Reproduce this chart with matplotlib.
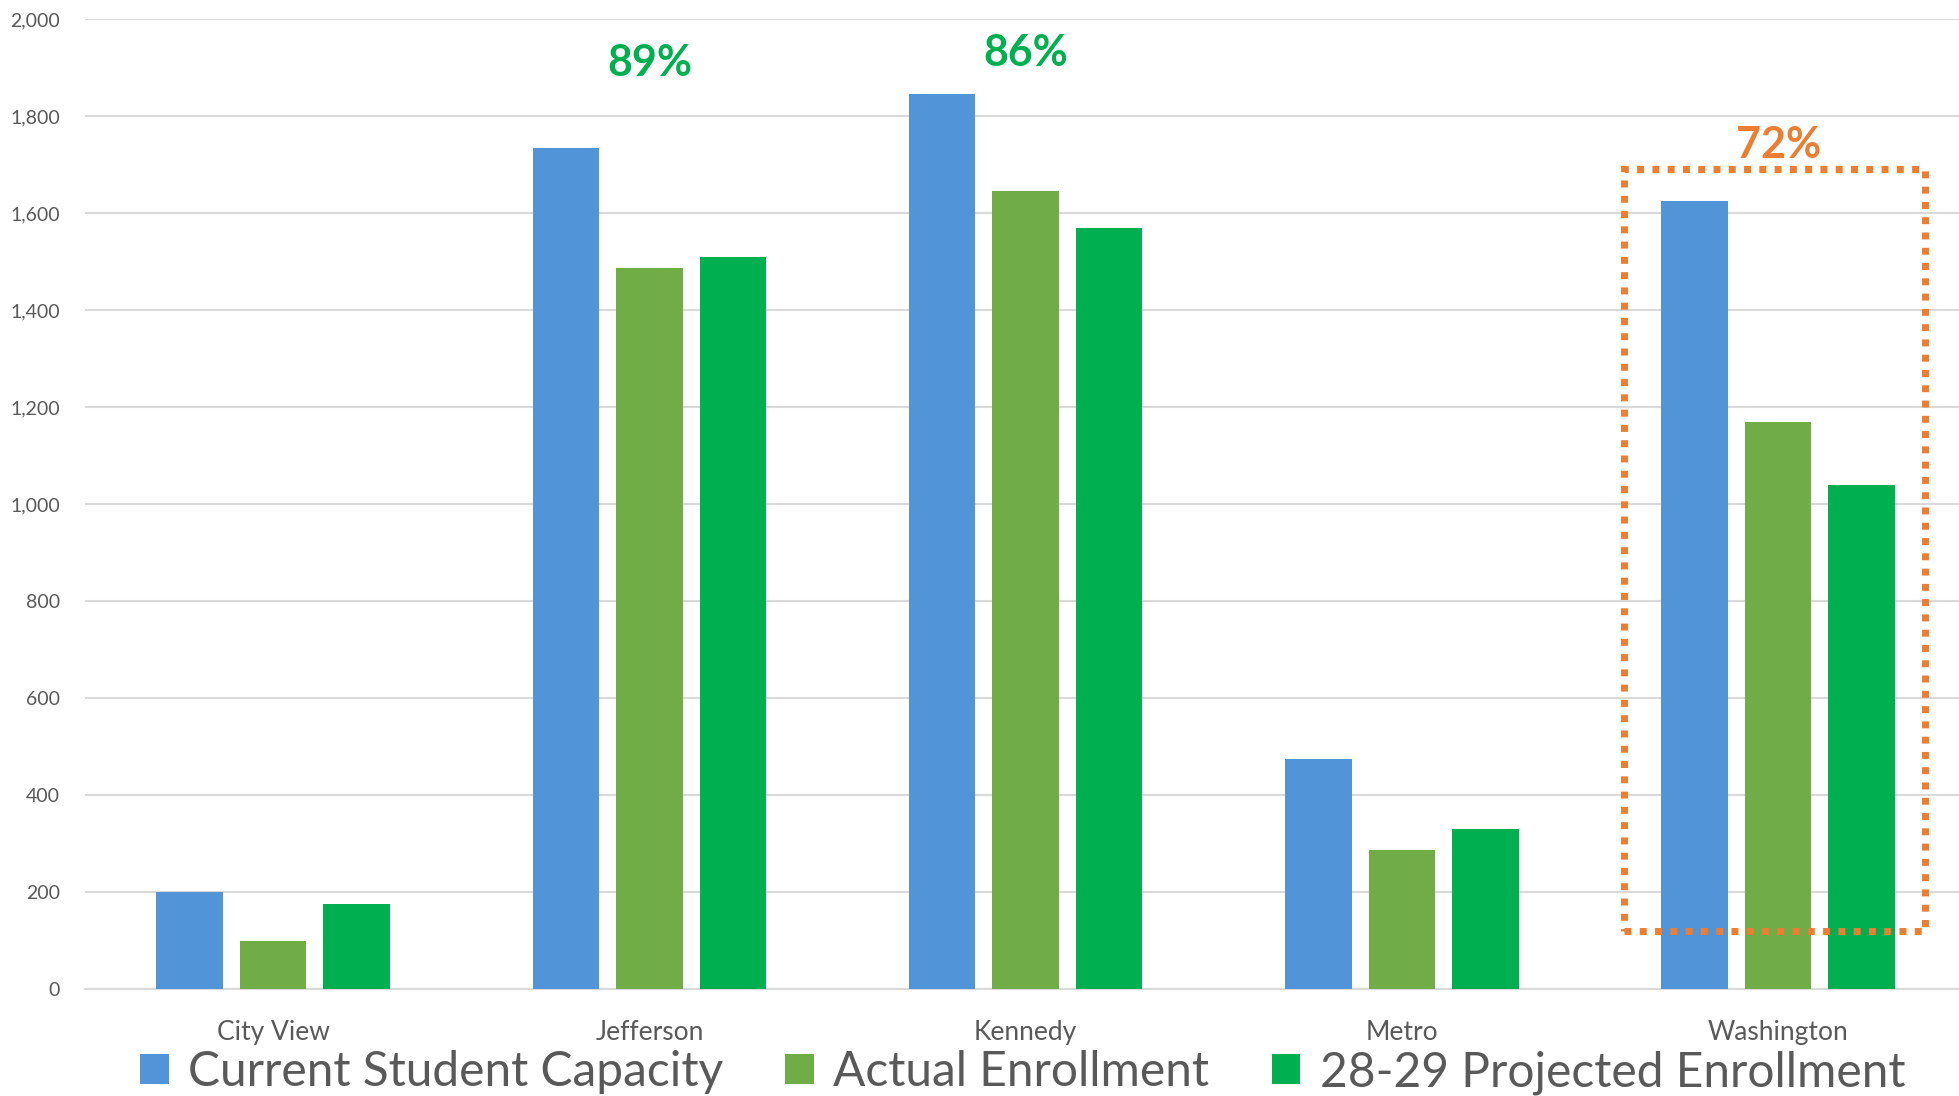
import numpy as np
import matplotlib
matplotlib.use('Agg')
import matplotlib.pyplot as plt
from matplotlib.patches import Rectangle

plt.rcParams['font.family'] = ['Lato', 'DejaVu Sans']

# data
schools = ['City View', 'Jefferson', 'Kennedy', 'Metro', 'Washington']
capacity = [200, 1733, 1845, 475, 1625]
actual = [100, 1487, 1645, 287, 1170]
projected = [175, 1510, 1570, 330, 1040]
series_names = ['Current Student Capacity', 'Actual Enrollment', '28-29 Projected Enrollment']
pct_labels = {1: '89%', 2: '86%', 4: '72%'}
pct_heights = {1: 1910, 2: 1930, 4: 1740}

colors = ['#5195D8', '#70AD47', '#00B050']
grey = '#595959'

fig = plt.figure(figsize=(19.59, 10.96), dpi=100)
ax = fig.add_axes([0.0434, 0.0976, 0.9603, 0.8851])

x = np.arange(len(schools))
w = 0.177
step = 0.222
for k, (vals, c, name) in enumerate(zip([capacity, actual, projected], colors, series_names)):
    ax.bar(x + (k - 1) * step, vals, width=w, color=c, label=name, zorder=3)

ax.set_xlim(-0.5, len(schools) - 0.5)
ax.set_ylim(0, 2000)
ax.set_yticks(np.arange(0, 2001, 200))
ax.set_yticklabels(['{:,}'.format(v) for v in range(0, 2001, 200)])
ax.grid(axis='y', color='#D9D9D9', linewidth=1.5, zorder=0)
for s in ['top', 'right', 'left']:
    ax.spines[s].set_visible(False)
ax.spines['bottom'].set_color('#D9D9D9')
ax.spines['bottom'].set_linewidth(1.5)
ax.set_xticks(x)
ax.set_xticklabels(schools)
ax.tick_params(axis='x', length=0, labelsize=19, colors=grey, pad=22)
ax.tick_params(axis='y', length=0, labelsize=14, colors=grey, pad=18)

# percentage callouts
for i, t in pct_labels.items():
    col = '#ED7D31' if i == 4 else '#00B050'
    ax.text(i, pct_heights[i], t, ha='center', va='center', fontsize=31,
            fontweight='bold', color=col, zorder=5)

# dotted highlight around Washington
rect = Rectangle((3.591, 120), 0.80, 1571, fill=False, edgecolor='#ED7D31',
                 linewidth=5, linestyle=(0, (1, 1.2)), zorder=4, clip_on=False)
ax.add_patch(rect)

leg = fig.legend(loc='lower center', bbox_to_anchor=(0.522, -0.038), ncol=3,
                 frameon=False, fontsize=34.5, handlelength=0.6, handleheight=0.6,
                 handletextpad=0.4, columnspacing=1.3)
for t in leg.get_texts():
    t.set_color(grey)

plt.savefig('out.png', dpi=100)
